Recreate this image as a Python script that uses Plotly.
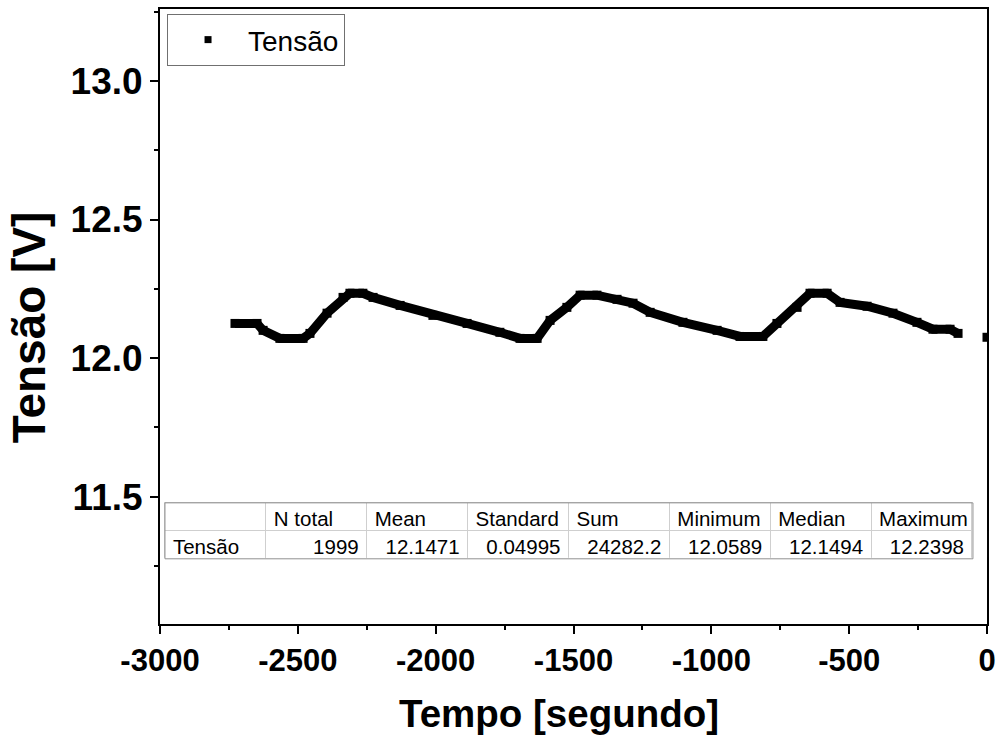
import plotly.graph_objects as go

# ---- data ----
time_s = [-2728, -2648, -2626, -2565, -2481, -2456, -2394, -2336, -2311, -2264,
          -2227, -2129, -2010, -1886, -1767, -1694, -1632, -1585, -1524, -1476,
          -1415, -1342, -1284, -1222, -1103, -979, -896, -813, -762, -689,
          -642, -580, -533, -435, -341, -254, -196, -134, -105]
voltage = [12.125, 12.125, 12.100, 12.071, 12.071, 12.089, 12.162, 12.219, 12.234, 12.234,
           12.219, 12.190, 12.154, 12.125, 12.093, 12.071, 12.071, 12.136, 12.183, 12.227,
           12.227, 12.212, 12.198, 12.165, 12.129, 12.100, 12.078, 12.078, 12.125, 12.183,
           12.234, 12.234, 12.201, 12.187, 12.162, 12.129, 12.104, 12.104, 12.089]
last_time = [0]
last_voltage = [12.075]

stat_headers = ["", "N total", "Mean", "Standard", "Sum", "Minimum", "Median", "Maximum"]
stat_values = ["Tensão", "1999", "12.1471", "0.04995", "24282.2", "12.0589", "12.1494", "12.2398"]

x_ticks = [-3000, -2500, -2000, -1500, -1000, -500, 0]
y_ticks = [11.5, 12.0, 12.5, 13.0]

x_title = "Tempo [segundo]"
y_title = "Tensão [V]"

FONT = "Liberation Sans, Arial, sans-serif"

fig = go.Figure()

# main series (line + square markers to mimic dense Origin markers)
fig.add_trace(go.Scatter(
    x=time_s + [None] + last_time,
    y=voltage + [None] + last_voltage,
    mode="lines+markers",
    line=dict(color="black", width=9),
    marker=dict(symbol="square", size=9, color="black"),
    connectgaps=False,
    showlegend=False,
    cliponaxis=True,
))

# legend entry (square marker only)
fig.add_trace(go.Scatter(
    x=[None], y=[None], mode="markers", name="Tensão",
    marker=dict(symbol="square", size=7, color="black"),
    showlegend=True,
))

# statistics table inside plot area
tbl_x = [0.006, 0.983]
tbl_y = [0.106, 0.197]
fig.add_trace(go.Table(
    domain=dict(x=tbl_x, y=tbl_y),
    columnwidth=[1] * len(stat_headers),
    header=dict(values=stat_headers, align="left", height=28,
                fill_color="white", line_color="#cfcfcf",
                font=dict(family=FONT, size=20.5, color="black")),
    cells=dict(values=[[v] for v in stat_values],
               align=["left"] + ["right"] * (len(stat_values) - 1), height=28,
               fill_color="white", line_color="#cfcfcf",
               font=dict(family=FONT, size=20.5, color="black")),
))

fig.add_shape(type="rect", xref="paper", yref="paper",
              x0=tbl_x[0], x1=tbl_x[1], y0=tbl_y[0], y1=tbl_y[1],
              line=dict(color="#909090", width=1))

axis_common = dict(
    showline=True, linecolor="black", linewidth=2, mirror=True,
    ticks="outside", ticklen=8, tickwidth=2, tickcolor="black",
    showgrid=False, zeroline=False, automargin=False,
)

fig.update_xaxes(
    range=[-3000, 0], tickvals=x_ticks, ticktext=[str(v) for v in x_ticks],
    tickfont=dict(family=FONT, size=31, color="black", weight="bold"),
    minor=dict(ticks="outside", ticklen=4, tickwidth=2, tickcolor="black", dtick=250),
    **axis_common,
)
fig.update_yaxes(
    range=[11.04, 13.26], tickvals=y_ticks, ticktext=[f"{v:.1f}" for v in y_ticks],
    tickfont=dict(family=FONT, size=37, color="black", weight="bold"),
    minor=dict(ticks="outside", ticklen=4, tickwidth=2, tickcolor="black", dtick=0.25),
    **axis_common,
)

# axis titles (placed as annotations to match the reference offsets)
fig.add_annotation(text=x_title, xref="paper", yref="paper",
                   x=0.4825, y=-0.145, xanchor="center", yanchor="middle",
                   showarrow=False,
                   font=dict(family=FONT, size=38.5, color="black", weight="bold"))
fig.add_annotation(text=y_title, xref="paper", yref="paper",
                   x=-0.158, y=0.483, xanchor="center", yanchor="middle",
                   textangle=-90, showarrow=False,
                   font=dict(family=FONT, size=46, color="black", weight="bold"))

fig.update_layout(
    width=999, height=751,
    margin=dict(l=160, r=12, t=9, b=127),
    paper_bgcolor="white", plot_bgcolor="white",
    legend=dict(x=0.0085, y=0.992, xanchor="left", yanchor="top",
                bgcolor="white", bordercolor="#707070", borderwidth=1,
                font=dict(family=FONT, size=28, color="black"),
                itemwidth=70),
)

fig.write_html("out.html")
